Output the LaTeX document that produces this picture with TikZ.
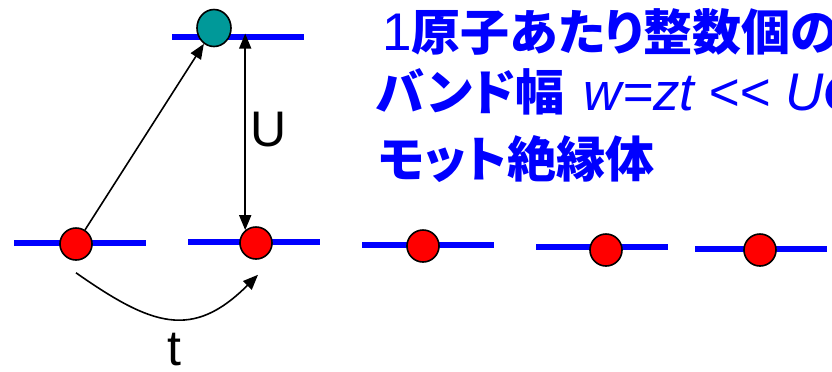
\documentclass[tikz,border=0pt]{standalone}
\usepackage{fontspec}
\setmainfont{Liberation Sans}
\newfontfamily\jpfont{Noto Sans CJK JP}[RawFeature=+palt]
\usetikzlibrary{arrows.meta,shapes.geometric}
\definecolor{LevelBlue}{HTML}{0000FF}
\definecolor{SiteRed}{HTML}{FF0000}
\definecolor{SiteTeal}{HTML}{009999}
\tikzset{
  level/.style={fill=LevelBlue, minimum width=66pt, minimum height=3pt, inner sep=0pt},
  electron/.style={circle, draw=black, line width=0.8pt, fill=SiteRed, minimum size=16pt, inner sep=0pt},
  upelectron/.style={ellipse, draw=black, line width=0.8pt, fill=SiteTeal,
    minimum width=17pt, minimum height=18.5pt, inner sep=0pt},
  hoparrow/.style={-{Triangle[length=7.5pt,width=6pt]}, line width=0.8pt, black},
  gaparrow/.style={{Triangle[length=7.5pt,width=6pt]}-{Triangle[length=7.5pt,width=6pt]}, line width=0.8pt, black},
  biglabel/.style={font=\fontsize{25pt}{30pt}\selectfont, inner sep=0pt},
  motttext/.style={text=LevelBlue, font=\jpfont\bfseries\fontsize{24.5pt}{30pt}\selectfont, anchor=base west, inner sep=0pt},
}
\newcommand{\lat}[1]{{\rmfamily\mdseries\fontsize{26.5pt}{30pt}\selectfont #1}}

\begin{document}
\begin{tikzpicture}[x=0.5pt, y=-0.5pt]
  \useasboundingbox (0,0) rectangle (832,371);
  \clip (0,0) rectangle (832,371);
  % lower levels, one electron per site
  \foreach \lx/\ly/\ex/\ey [count=\i] in {80/243/76/244, 254/242/256/243, 428/245/423/246, 602/247/606/250, 761/249/760/250} {
    \node[level] (lev\i) at (\lx,\ly) {};
    \node[electron] (e\i) at (\ex,\ey) {};
  }
  % upper level
  \node[level] (levU) at (238,37) {};
  \node[upelectron] (eU) at (214,28) {};

  \draw[hoparrow] (e1) -- (eU);
  \draw[gaparrow] (e2.130 |- levU.north) -- (e2.130);
  \node[biglabel] (Ulab) at (269,130) {U};
  \draw[hoparrow] ([yshift=-6pt]e1.south) to[out=-35, in=-135, looseness=1.3] ([xshift=1pt,yshift=-7.5pt]e2.south);
  \node[biglabel] (tlab) at (174,350) {t};

  % text
  \node[motttext] (line1) at (382,50) {\lat{1}原子あたり整数個の};
  \node[motttext] (line2) at (376,110) {バンド幅\hspace{0.4em}\lat{\itshape w=zt <{}< U}の};
  \node[motttext] (line3) at (378,177) {モット絶縁体};
\end{tikzpicture}
\end{document}
